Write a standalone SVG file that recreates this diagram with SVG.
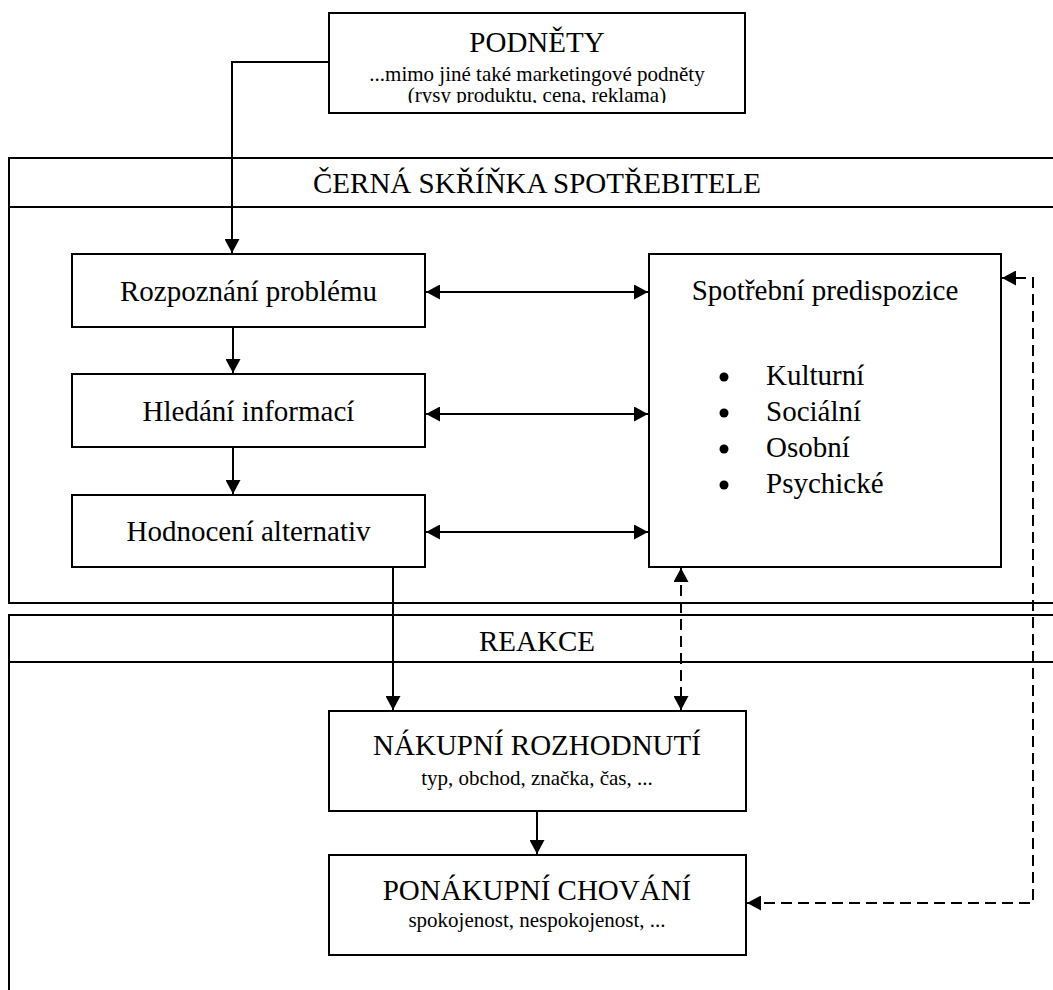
<svg xmlns="http://www.w3.org/2000/svg" width="1053" height="990" viewBox="0 0 1053 990">
  <style>
    text { font-family: "Liberation Serif", "Times New Roman", "DejaVu Serif", serif; fill: #000000; }
    .box { fill: #ffffff; stroke: #000000; stroke-width: 2; }
    .frame { fill: none; stroke: #000000; stroke-width: 2; }
    .title { font-size: 29px; text-anchor: middle; }
    .sub { font-size: 21px; text-anchor: middle; }
    .item { font-size: 29px; }
    .link { fill: none; stroke: #000000; stroke-width: 2; }
    .dash { fill: none; stroke: #000000; stroke-width: 2; stroke-dasharray: 11 6; }
  </style>
  <defs>
    <marker id="arrow" markerUnits="userSpaceOnUse" markerWidth="15" markerHeight="15" refX="14" refY="7.5" orient="auto-start-reverse" viewBox="0 0 15 15">
      <path d="M0,0 L14,7.5 L0,15 Z" fill="#000000" stroke="none"/>
    </marker>
    <!-- the stimulus caption is cut off just below its last baseline -->
    <clipPath id="clipStimulus">
      <rect x="330" y="14" width="414" height="89"/>
    </clipPath>
  </defs>

  <rect width="1053" height="990" fill="#ffffff"/>

  <!-- black box frame -->
  <g id="frame-black-box">
    <path class="frame" d="M1060,158 H9 V603 H1060 M9,207 H1060"/>
    <text class="title" x="537" y="193">ČERNÁ SKŘÍŇKA SPOTŘEBITELE</text>
  </g>

  <!-- response frame -->
  <g id="frame-response">
    <path class="frame" d="M1060,615 H9 V1000 M9,662 H1060"/>
    <text class="title" x="537" y="651">REAKCE</text>
  </g>

  <!-- connectors -->
  <g id="connectors">
    <path class="link" d="M329,62 H232 V253" marker-end="url(#arrow)"/>
    <path class="link" d="M233,327 V373" marker-end="url(#arrow)"/>
    <path class="link" d="M233,447 V494" marker-end="url(#arrow)"/>
    <path class="link" d="M426,292 H648" marker-start="url(#arrow)" marker-end="url(#arrow)"/>
    <path class="link" d="M426,414 H648" marker-start="url(#arrow)" marker-end="url(#arrow)"/>
    <path class="link" d="M426,532 H648" marker-start="url(#arrow)" marker-end="url(#arrow)"/>
    <path class="link" d="M393,567 V710" marker-end="url(#arrow)"/>
    <path class="dash" d="M681,568 V710" marker-start="url(#arrow)" marker-end="url(#arrow)"/>
    <path class="link" d="M537,811 V854" marker-end="url(#arrow)"/>
    <path class="dash" d="M747,903 H1033 V278 H1002" marker-start="url(#arrow)" marker-end="url(#arrow)"/>
  </g>

  <g id="node-stimuli">
    <rect class="box" x="329" y="13" width="416" height="100"/>
    <text class="title" x="537" y="52">PODNĚTY</text>
    <text class="sub" clip-path="url(#clipStimulus)"><tspan x="537" y="81">...mimo jiné také marketingové podněty</tspan><tspan x="537" y="102">(rysy produktu, cena, reklama)</tspan></text>
  </g>

  <g id="node-problem">
    <rect class="box" x="72" y="254" width="353" height="73"/>
    <text class="title" x="248.5" y="301">Rozpoznání problému</text>
  </g>

  <g id="node-search">
    <rect class="box" x="72" y="374" width="353" height="73"/>
    <text class="title" x="248.5" y="421">Hledání informací</text>
  </g>

  <g id="node-evaluation">
    <rect class="box" x="72" y="495" width="353" height="72"/>
    <text class="title" x="248.5" y="541">Hodnocení alternativ</text>
  </g>

  <g id="node-predisposition">
    <rect class="box" x="649" y="254" width="352" height="313"/>
    <text class="title" x="825" y="300">Spotřební predispozice</text>
    <circle cx="724" cy="377" r="4.5" fill="#000000"/>
    <circle cx="724" cy="413" r="4.5" fill="#000000"/>
    <circle cx="724" cy="449" r="4.5" fill="#000000"/>
    <circle cx="724" cy="485" r="4.5" fill="#000000"/>
    <text class="item" x="766" y="385">Kulturní</text>
    <text class="item" x="766" y="421">Sociální</text>
    <text class="item" x="766" y="457">Osobní</text>
    <text class="item" x="766" y="493">Psychické</text>
  </g>

  <g id="node-purchase">
    <rect class="box" x="329" y="711" width="417" height="100"/>
    <text class="title" x="537" y="755">NÁKUPNÍ ROZHODNUTÍ</text>
    <text class="sub" x="537" y="785">typ, obchod, značka, čas, ...</text>
  </g>

  <g id="node-post-purchase">
    <rect class="box" x="329" y="855" width="417" height="100"/>
    <text class="title" x="537" y="900">PONÁKUPNÍ CHOVÁNÍ</text>
    <text class="sub" x="537" y="927">spokojenost, nespokojenost, ...</text>
  </g>
</svg>
